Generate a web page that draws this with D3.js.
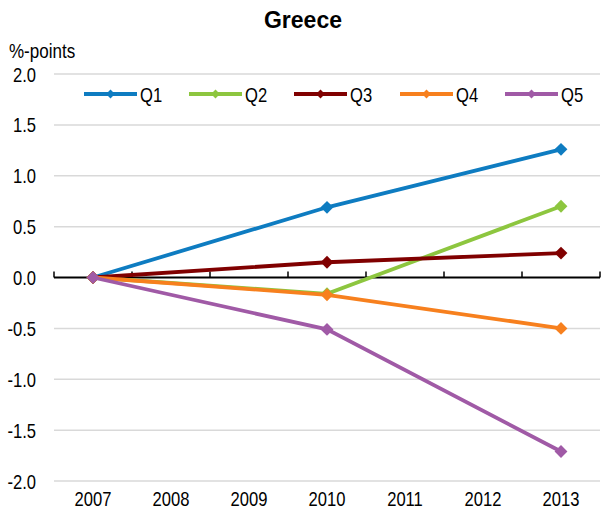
<!DOCTYPE html>
<html><head><meta charset="utf-8">
<script src="https://cdn.jsdelivr.net/npm/d3@7"></script>
<style>
body{margin:0;background:#fff;}
svg text{font-family:"Liberation Sans",Arial,sans-serif;fill:#000;}
</style></head>
<body><svg id="c" width="610" height="517"></svg>
<script>
const years = ["2007","2008","2009","2010","2011","2012","2013"];
const seriesNames = ["Q1","Q2","Q3","Q4","Q5"];
const seriesColors = ["#0E7CC1","#8DC63F","#800000","#F7801E","#A05AA6"];
const dataYears = ["2007","2010","2013"];
const q1 = [0, 0.69, 1.26];
const q2 = [0, -0.16, 0.70];
const q3 = [0, 0.15, 0.24];
const q4 = [0, -0.17, -0.50];
const q5 = [0, -0.51, -1.71];
const yTicks = [2.0,1.5,1.0,0.5,0.0,-0.5,-1.0,-1.5,-2.0];
const seriesValues = [q1,q2,q3,q4,q5];

(function(){
const svg = d3.select("#c");
const mL = 54, mR = 600, mT = 74, mB = 481;
const SX = 0.83;
const x = d3.scaleBand().domain(years).range([mL,mR]);
const y = d3.scaleLinear().domain([-2,2]).range([mB,mT]);

svg.append("text").attr("x",303).attr("y",28).attr("text-anchor","middle")
  .style("font-weight","bold").style("font-size","23px").text("Greece");
svg.append("text").attr("transform",`translate(9,58) scale(${SX},1)`).style("font-size","20.5px").text("%-points");

svg.append("g").selectAll("line").data(yTicks.filter(d=>d!==0)).join("line")
  .attr("x1",mL).attr("x2",mR).attr("y1",d=>y(d)).attr("y2",d=>y(d))
  .attr("stroke","#d9d9d9").attr("stroke-width",1.5);

svg.append("g").selectAll("text").data(yTicks).join("text")
  .attr("transform",d=>`translate(36,${y(d)+7.5}) scale(${SX},1)`).attr("text-anchor","end")
  .style("font-size","20px").text(d=>d.toFixed(1));

svg.append("g").selectAll("text").data(years).join("text")
  .attr("transform",d=>`translate(${x(d)+x.bandwidth()/2},506) scale(${SX},1)`).attr("text-anchor","middle")
  .style("font-size","20px").text(d=>d);

const edges = years.map(d=>x(d)).concat([mR]);
svg.append("line").attr("x1",mL).attr("x2",mR).attr("y1",y(0)).attr("y2",y(0))
  .attr("stroke","#000").attr("stroke-width",2);
svg.append("g").selectAll("line").data(edges).join("line")
  .attr("x1",d=>d).attr("x2",d=>d).attr("y1",y(0)).attr("y2",y(0)-6)
  .attr("stroke","#000").attr("stroke-width",1.5);

const cx = d=>x(d)+x.bandwidth()/2;
const line = d3.line().x(d=>cx(d.yr)).y(d=>y(d.v));
const diamond = d3.symbol().type(d3.symbolDiamond2).size(105);
seriesNames.forEach((name,i)=>{
  const pts = dataYears.map((yr,j)=>({yr, v:seriesValues[i][j]}));
  const g = svg.append("g");
  g.append("path").datum(pts).attr("d",line).attr("fill","none")
    .attr("stroke",seriesColors[i]).attr("stroke-width",3.8);
  g.selectAll("path.m").data(pts).join("path").attr("class","m")
    .attr("d",diamond).attr("transform",d=>`translate(${cx(d.yr)},${y(d.v)})`)
    .attr("fill",seriesColors[i]);
});

const legX = [84,189,294,400,505];
const legY = 94;
seriesNames.forEach((name,i)=>{
  const g = svg.append("g").attr("transform",`translate(${legX[i]},${legY})`);
  g.append("line").attr("x1",0).attr("x2",53).attr("stroke",seriesColors[i]).attr("stroke-width",4);
  g.append("path").attr("d",d3.symbol().type(d3.symbolDiamond2).size(50)).attr("transform","translate(26.5,0)").attr("fill",seriesColors[i]);
  g.append("text").attr("transform",`translate(56,7.5) scale(${SX},1)`).style("font-size","20px").text(name);
});
})();
</script></body></html>
